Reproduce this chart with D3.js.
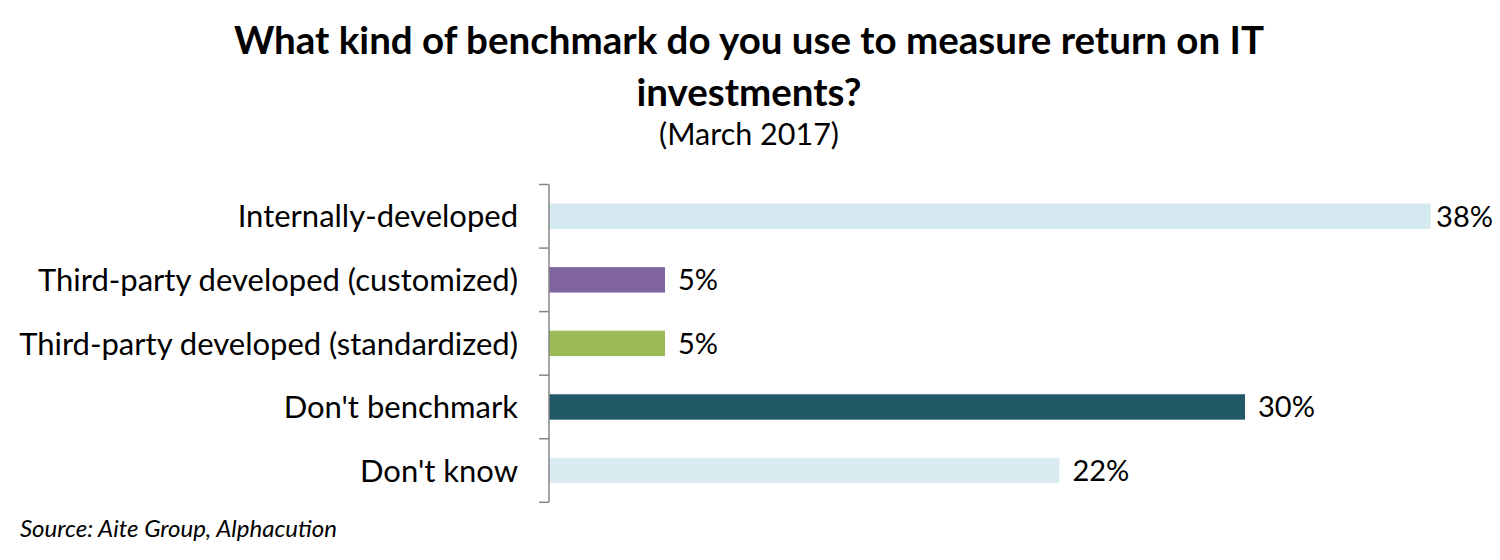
<!DOCTYPE html>
<html>
<head>
<meta charset="utf-8">
<script src="https://cdn.jsdelivr.net/npm/d3@7"></script>
<style>
  body { margin: 0; background: #fff; }
  svg { display: block; font-family: Lato, "Open Sans", sans-serif; }
</style>
</head>
<body>
<div id="chart"></div>
<script>
'use strict';

const categories = [
  "Internally-developed",
  "Third-party developed (customized)",
  "Third-party developed (standardized)",
  "Don't benchmark",
  "Don't know"
];
const values = [38, 5, 5, 30, 22];
const barColors = ["#d5eaf0", "#8064a2", "#9bbb59", "#215967", "#daecf2"];
const titleLines = ["What kind of benchmark do you use to measure return on IT", "investments?"];
const subtitle = "(March 2017)";
const source = "Source: Aite Group, Alphacution";

const width = 1500, height = 560;
const margin = {top: 184.5, left: 549, bottom: 57.7};

let svg = d3.select("#chart")
  .append("svg")
    .attr("width", width)
    .attr("height", height);

// x scale : 1% ~ 23.2px
let x = d3.scaleLinear()
  .domain([0, 40])
  .range([margin.left, margin.left + 928]);

let y = d3.scaleBand()
  .domain(categories)
  .range([margin.top, height - margin.bottom])
  .paddingInner(0.6)
  .paddingOuter(0.3);

// bars
svg.selectAll("rect.bar")
  .data(categories)
  .enter()
  .append("rect")
    .attr("class", "bar")
    .attr("x", x(0))
    .attr("y", d => y(d))
    .attr("width", (d, i) => x(values[i]) - x(0))
    .attr("height", y.bandwidth())
    .style("fill", (d, i) => barColors[i]);

// value labels
svg.selectAll("text.val")
  .data(categories)
  .enter()
  .append("text")
    .attr("class", "val")
    .attr("x", (d, i) => x(values[i]) + 13)
    .attr("y", d => y(d) + y.bandwidth() / 2)
    .attr("dy", "0.36em")
    .style("font-size", "29px")
    .style("fill", "#000")
    .text((d, i) => values[i] + "%")
    .each(function() {
      // keep the label inside the picture like the original
      const w = this.getComputedTextLength();
      const xx = +d3.select(this).attr("x");
      if (xx + w > width - 7) d3.select(this).attr("x", width - 7 - w);
    });

// category axis: line + ticks at band boundaries
const axisG = svg.append("g").attr("class", "axis");
const y0 = y.range()[0], y1 = y.range()[1];
axisG.append("line")
  .attr("x1", x(0)).attr("x2", x(0))
  .attr("y1", y0).attr("y2", y1)
  .style("stroke", "#868686").style("stroke-width", 1.5);

const bounds = d3.range(categories.length + 1).map(i => y0 + i * y.step());
axisG.selectAll("line.tick")
  .data(bounds)
  .enter()
  .append("line")
    .attr("class", "tick")
    .attr("x1", x(0) - 10).attr("x2", x(0))
    .attr("y1", d => d).attr("y2", d => d)
    .style("stroke", "#868686").style("stroke-width", 1.5);

axisG.selectAll("text.cat")
  .data(categories)
  .enter()
  .append("text")
    .attr("class", "cat")
    .attr("x", x(0) - 31)
    .attr("y", d => y(d) + y.bandwidth() / 2)
    .attr("dy", "0.36em")
    .attr("text-anchor", "end")
    .style("font-size", "31px")
    .style("fill", "#000")
    .text(d => d);

// title
svg.selectAll("text.title")
  .data(titleLines)
  .enter()
  .append("text")
    .attr("class", "title")
    .attr("x", 749)
    .attr("y", (d, i) => 54 + i * 52)
    .attr("text-anchor", "middle")
    .style("font-size", "38.5px")
    .style("font-weight", "bold")
    .text(d => d);

svg.append("text")
  .attr("x", 749)
  .attr("y", 145)
  .attr("text-anchor", "middle")
  .style("font-size", "30.5px")
  .text(subtitle);

// source note
svg.append("text")
  .attr("x", 20)
  .attr("y", 537)
  .style("font-size", "24px")
  .style("font-style", "italic")
  .text(source);
</script>
</body>
</html>
